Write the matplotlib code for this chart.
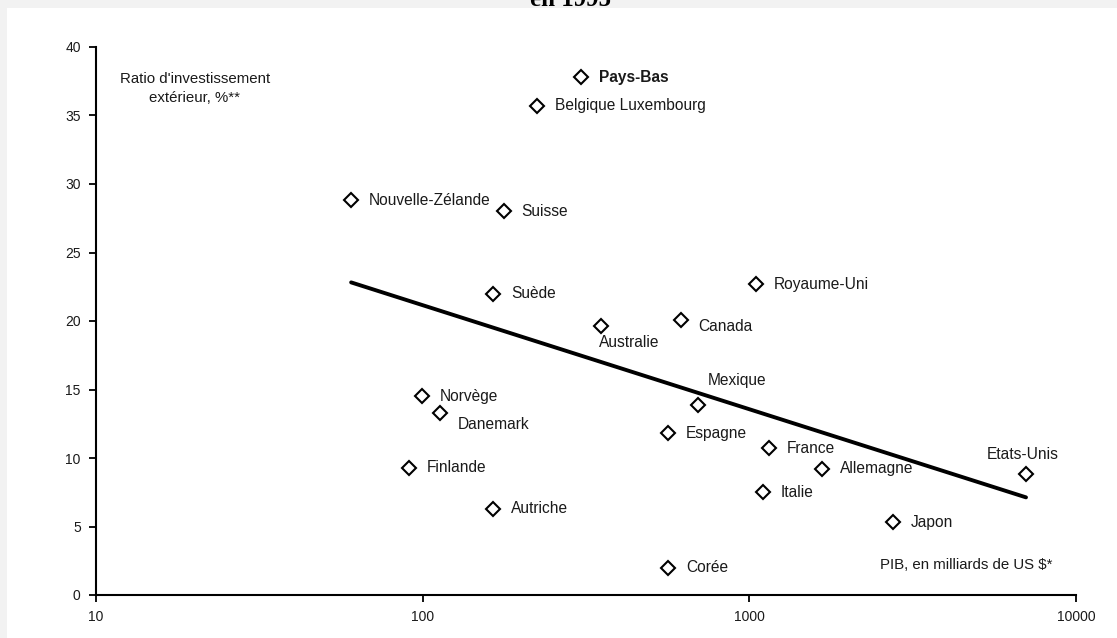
import matplotlib
matplotlib.use("Agg")
import matplotlib.pyplot as plt
import numpy as np
from matplotlib.patches import Rectangle

# PIB (milliards de US $) et ratio d'investissement exterieur (%) par pays
pays = ["Pays-Bas", "Belgique Luxembourg", "Nouvelle-Zélande", "Suisse", "Suède",
        "Royaume-Uni", "Australie", "Canada", "Norvège", "Danemark", "Mexique",
        "Espagne", "France", "Allemagne", "Etats-Unis", "Finlande", "Italie",
        "Autriche", "Japon", "Corée"]
pib = [305, 224, 60.4, 177, 164, 1047, 351, 618, 99.5, 113, 697,
       563, 1148, 1668, 7030, 90.8, 1101, 164, 2754, 563]
ratio = [37.8, 35.7, 28.8, 28.0, 22.0, 22.7, 19.6, 20.1, 14.5, 13.3, 13.9,
         11.8, 10.7, 9.2, 8.8, 9.3, 7.5, 6.3, 5.3, 2.0]

# decalage des etiquettes (pixels) et alignement
decal = {
    "Australie": (-2, -16, "left"),
    "Danemark": (18, -12, "left"),
    "Mexique": (10, 24, "left"),
    "Etats-Unis": (-3, 20, "center"),
    "Canada": (17, -7, "left"),
}

fig = plt.figure(figsize=(11.17, 6.38), dpi=100, facecolor="#f2f2f2")
# fond blanc du graphique
fig.patches.append(Rectangle((7 / 1117, 0), 1, 1 - 8 / 638, transform=fig.transFigure,
                             facecolor="white", edgecolor="none", zorder=-10))
ax = fig.add_axes([96 / 1117, 43 / 638, 980 / 1117, 548 / 638])
ax.set_facecolor("none")
ax.set_zorder(5)

police = ["Liberation Sans Narrow", "Liberation Sans", "DejaVu Sans"]
gris = "#1a1a1a"

ax.plot(pib, ratio, linestyle="none", marker="D", markersize=7.3,
        markerfacecolor="white", markeredgecolor="black", markeredgewidth=1.5, zorder=3)

# droite de tendance logarithmique
lx = np.log10(pib)
pente, orig = np.polyfit(lx, ratio, 1)
xt = np.linspace(lx.min(), lx.max(), 100)
ax.plot(10 ** xt, orig + pente * xt, color="black", linewidth=2.8,
        solid_capstyle="round", zorder=2)

for nom, x, y in zip(pays, pib, ratio):
    dx, dy, ha = decal.get(nom, (18, 0, "left"))
    ax.annotate(nom, (x, y), xytext=(dx, dy), textcoords="offset pixels",
                ha=ha, va="center", fontsize=11.2, family=police, color=gris,
                fontweight="bold" if nom == "Pays-Bas" else "normal")

ax.set_xscale("log")
ax.set_xlim(10, 10000)
ax.set_ylim(0, 40)
ax.set_xticks([10, 100, 1000, 10000])
ax.set_xticklabels(["10", "100", "1000", "10000"])
ax.xaxis.set_minor_locator(matplotlib.ticker.NullLocator())
ax.set_yticks(range(0, 41, 5))
for lab in ax.get_xticklabels() + ax.get_yticklabels():
    lab.set_family(police)
    lab.set_fontsize(10)
    lab.set_color(gris)
ax.tick_params(direction="out", length=5, width=1.3, color="black", pad=6)

for s in ["top", "right"]:
    ax.spines[s].set_visible(False)
for s in ["left", "bottom"]:
    ax.spines[s].set_linewidth(1.5)

ax.text(0.101, 0.955, "Ratio d'investissement\nextérieur, %**", transform=ax.transAxes,
        ha="center", va="top", fontsize=10.8, family=police, color=gris, linespacing=1.45)
ax.text(0.888, 0.055, "PIB, en milliards de US $*", transform=ax.transAxes,
        ha="center", va="center", fontsize=10.8, family=police, color=gris)

fig.text(570 / 1117, 1 - 6 / 638, "en 1995", ha="center", va="baseline",
         fontsize=18, fontweight="bold", family=["Liberation Serif", "DejaVu Serif"])

fig.savefig("out.png", dpi=100, facecolor=fig.get_facecolor())
